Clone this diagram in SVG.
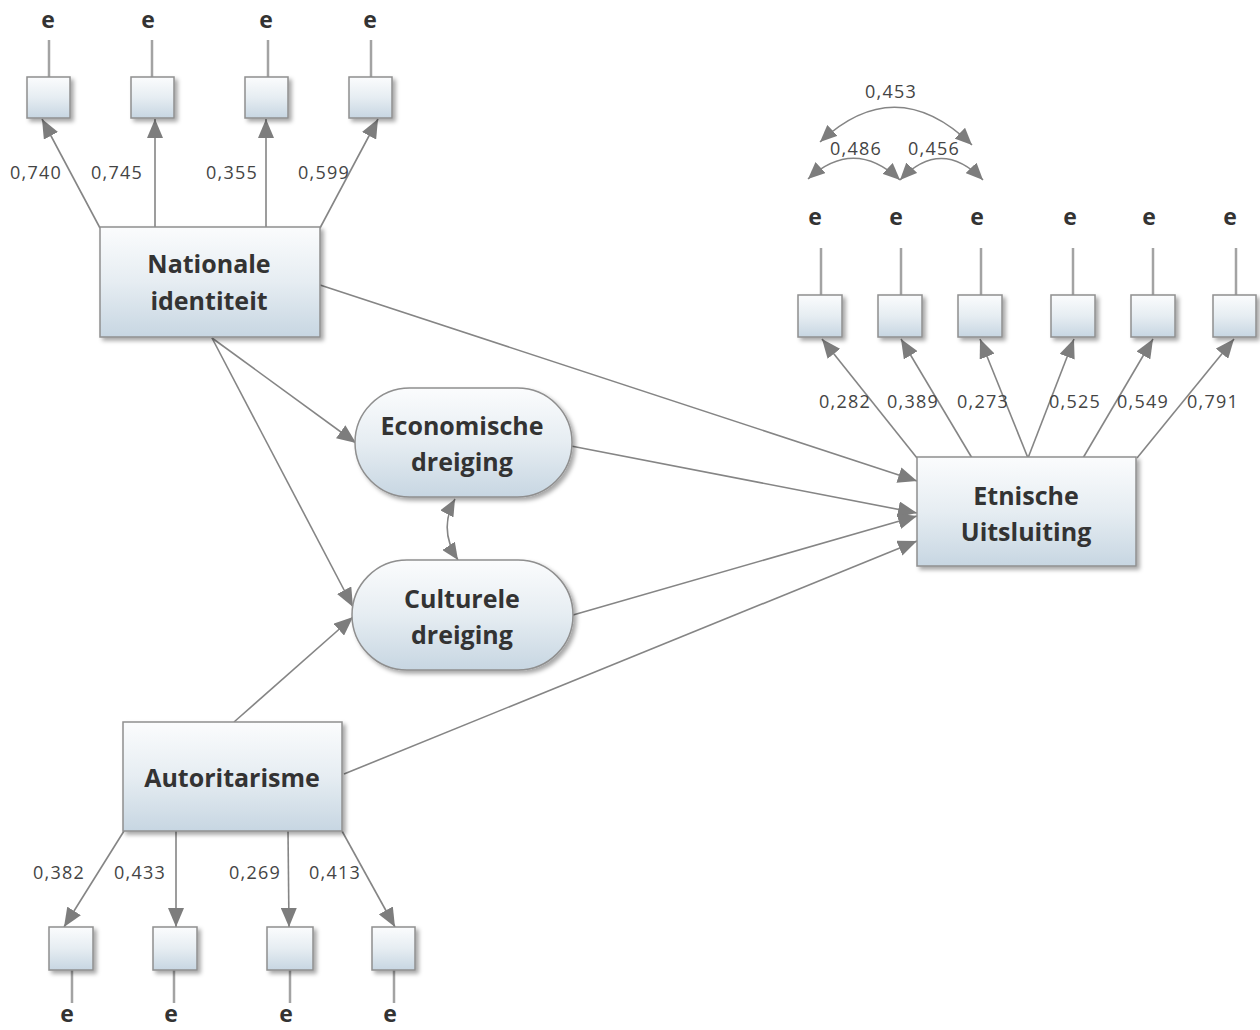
<svg xmlns="http://www.w3.org/2000/svg" width="1260" height="1030" viewBox="0 0 1260 1030">
<style>
.box{fill:url(#g);stroke:#8f8f8f;stroke-width:1.5;filter:url(#sh)}
.lbl{font-family:"Open Sans","Liberation Sans",sans-serif;font-weight:bold;font-size:25px;fill:#333;text-anchor:middle}
.num{font-family:"Open Sans","Liberation Sans",sans-serif;font-size:18px;fill:#444;text-anchor:middle;letter-spacing:1.2px}
.e{font-family:"Open Sans","Liberation Sans",sans-serif;font-weight:bold;font-size:23px;fill:#333;text-anchor:middle}
.c{fill:none;stroke:#858585;stroke-width:1.6}
.a{marker-end:url(#ah)}
.cv{fill:none;stroke:#858585;stroke-width:1.6;marker-start:url(#ah2);marker-end:url(#ah2)}
.err{fill:none;stroke:#a3a3a3;stroke-width:2.5}
</style>
<defs>
<linearGradient id="g" x1="0" y1="0" x2="0" y2="1">
<stop offset="0" stop-color="#fbfcfd"/>
<stop offset="0.5" stop-color="#e6edf2"/>
<stop offset="1" stop-color="#c7d6e2"/>
</linearGradient>
<filter id="sh" x="-10%" y="-10%" width="130%" height="130%">
<feDropShadow dx="3" dy="3" stdDeviation="2" flood-color="#000" flood-opacity="0.35"/>
</filter>
<marker id="ah" viewBox="0 0 19 16" refX="19" refY="8" markerWidth="19" markerHeight="16" markerUnits="userSpaceOnUse" orient="auto-start-reverse">
<path d="M0,0 L19,8 L0,16 z" fill="#7d7d7d"/>
</marker>
<marker id="ah2" viewBox="0 0 17 15" refX="17" refY="7.5" markerWidth="17" markerHeight="15" markerUnits="userSpaceOnUse" orient="auto-start-reverse">
<path d="M0,0 L17,7.5 L0,15 z" fill="#7d7d7d"/>
</marker>
</defs>

<g id="connectors">
<!-- error lines -->
<path class="err" d="M49,40V77 M152,40V77 M268,40V77 M371,40V77"/>
<path class="err" d="M821,248V295 M901,248V295 M981,248V295 M1073,248V295 M1153,248V295 M1236,248V295"/>
<path class="err" d="M72,970V1003 M174,970V1003 M290,970V1003 M394,970V1003"/>
<!-- Nationale indicators -->
<path class="c a" d="M100,228 L42,119"/>
<path class="c a" d="M155,228 L155,119"/>
<path class="c a" d="M266,228 L266,119"/>
<path class="c a" d="M320,228 L378,119"/>
<!-- Etnische indicators -->
<path class="c a" d="M917,458 L822,339"/>
<path class="c a" d="M972,458 L901,339"/>
<path class="c a" d="M1028,458 L980,339"/>
<path class="c a" d="M1028,458 L1074,339"/>
<path class="c a" d="M1083,458 L1153,339"/>
<path class="c a" d="M1137,458 L1234,339"/>
<!-- Autoritarisme indicators -->
<path class="c a" d="M124,831 L64,927"/>
<path class="c a" d="M176,831 L176,927"/>
<path class="c a" d="M288,831 L289,927"/>
<path class="c a" d="M342,831 L395,927"/>
<!-- structural paths -->
<path class="c a" d="M320,285 L917,481"/>
<path class="c a" d="M571,446 L917,513"/>
<path class="c a" d="M573,615 L917,516"/>
<path class="c a" d="M344,774 L917,541"/>
<path class="c a" d="M212,338 L356,443"/>
<path class="c a" d="M212,338 L353,607"/>
<path class="c a" d="M234,722 L353,617"/>
<!-- covariances -->
<path class="cv" d="M455,499 Q438,530 458,560"/>
<path class="cv" d="M820,142 Q896,71 972,145"/>
<path class="cv" d="M808,179 Q854,137 900,180"/>
<path class="cv" d="M900,180 Q941,137 983,180"/>
</g>

<g id="coef-labels">
<text class="num" x="36" y="179">0,740</text>
<text class="num" x="117" y="179">0,745</text>
<text class="num" x="232" y="179">0,355</text>
<text class="num" x="324" y="179">0,599</text>
<text class="num" x="891" y="98">0,453</text>
<text class="num" x="856" y="155">0,486</text>
<text class="num" x="934" y="155">0,456</text>
<text class="num" x="845" y="408">0,282</text>
<text class="num" x="913" y="408">0,389</text>
<text class="num" x="983" y="408">0,273</text>
<text class="num" x="1075" y="408">0,525</text>
<text class="num" x="1143" y="408">0,549</text>
<text class="num" x="1213" y="408">0,791</text>
<text class="num" x="59" y="879">0,382</text>
<text class="num" x="140" y="879">0,433</text>
<text class="num" x="255" y="879">0,269</text>
<text class="num" x="335" y="879">0,413</text>
</g>

<g id="err-top">
<text class="e" x="48" y="28">e</text>
<text class="e" x="148" y="28">e</text>
<text class="e" x="266" y="28">e</text>
<text class="e" x="370" y="28">e</text>
</g>
<g id="err-right">
<text class="e" x="815" y="225">e</text>
<text class="e" x="896" y="225">e</text>
<text class="e" x="977" y="225">e</text>
<text class="e" x="1070" y="225">e</text>
<text class="e" x="1149" y="225">e</text>
<text class="e" x="1230" y="225">e</text>
</g>
<g id="err-bottom">
<text class="e" x="67" y="1022">e</text>
<text class="e" x="171" y="1022">e</text>
<text class="e" x="286" y="1022">e</text>
<text class="e" x="390" y="1022">e</text>
</g>

<g id="ni-items">
<rect class="box" x="27" y="77" width="43" height="41"/>
<rect class="box" x="131" y="77" width="43" height="41"/>
<rect class="box" x="245" y="77" width="43" height="41"/>
<rect class="box" x="349" y="77" width="43" height="41"/>
</g>
<g id="eu-items">
<rect class="box" x="798" y="295" width="44" height="42"/>
<rect class="box" x="878" y="295" width="44" height="42"/>
<rect class="box" x="958" y="295" width="44" height="42"/>
<rect class="box" x="1051" y="295" width="44" height="42"/>
<rect class="box" x="1131" y="295" width="44" height="42"/>
<rect class="box" x="1213" y="295" width="43" height="42"/>
</g>
<g id="au-items">
<rect class="box" x="49" y="927" width="44" height="43"/>
<rect class="box" x="153" y="927" width="44" height="43"/>
<rect class="box" x="267" y="927" width="46" height="43"/>
<rect class="box" x="372" y="927" width="43" height="43"/>
</g>

<g id="nationale">
<rect class="box" x="100" y="227" width="220" height="110"/>
<text class="lbl" x="209" y="273">Nationale</text>
<text class="lbl" x="209" y="310">identiteit</text>
</g>
<g id="economische">
<rect class="box" x="355" y="388" width="217" height="109" rx="54.5" ry="54.5"/>
<text class="lbl" x="462" y="435">Economische</text>
<text class="lbl" x="462" y="471">dreiging</text>
</g>
<g id="culturele">
<rect class="box" x="352" y="560" width="221" height="110" rx="55" ry="55"/>
<text class="lbl" x="462" y="608">Culturele</text>
<text class="lbl" x="462" y="644">dreiging</text>
</g>
<g id="etnische">
<rect class="box" x="917" y="457" width="219" height="109"/>
<text class="lbl" x="1026" y="505">Etnische</text>
<text class="lbl" x="1026" y="541">Uitsluiting</text>
</g>
<g id="autoritarisme">
<rect class="box" x="123" y="722" width="219" height="109"/>
<text class="lbl" x="232" y="787">Autoritarisme</text>
</g>
</svg>
